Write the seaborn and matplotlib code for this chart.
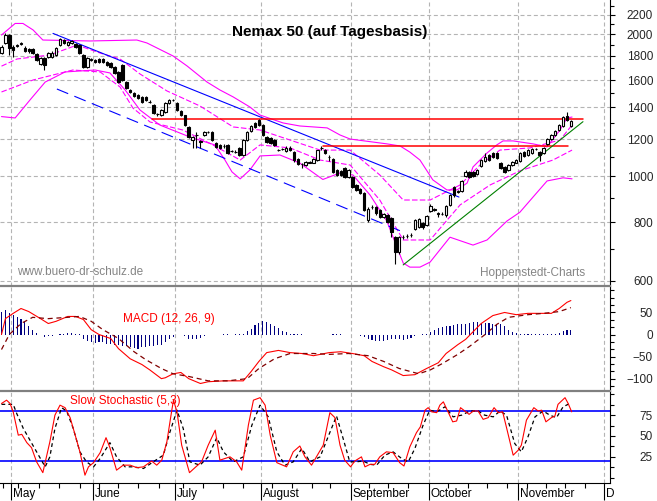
import numpy as np
import pandas as pd
import matplotlib
matplotlib.use("Agg")
import matplotlib.pyplot as plt
import matplotlib.transforms as mtransforms
from matplotlib.ticker import FixedLocator, NullFormatter, FuncFormatter, MultipleLocator
import seaborn as sns

sns.set_style("white")
plt.rcParams["font.family"] = ["Liberation Sans", "DejaVu Sans"]

# ---------------- data ----------------
opens = [1825,1920,1990,1885,1890,1905,1875,1860,1862,1815,
         1730,1780,1790,1795,1809,1899,1946,1899,1918,1908,
         1899,1809,1706,1765,1765,1773,1773,1748,1740,1706,
         1665,1723,1585,1525,1503,1488,1474,1474,1440,1417,
         1356,1349,1369,1431,1452,1431,1376,1349,1273,1194,
         1224,1180,1224,1240,1242,1177,1166,1160,1166,1131,
         1127,1148,1110,1194,1248,1298,1317,1285,1212,1205,
         1194,1137,1143,1131,1150,1126,1088,1062,1057,1072,
         1070,1083,1148,1137,1100,1090,1032,1027,1042,997,
         997,959,940,922,808,860,860,849,820,828,
         816,744,691,742,746,750,773,781,797,789,
         845,850,834,834,828,870,950,927,931,1002,
         1022,1022,1012,1052,1078,1110,1120,1120,1067,1047,
         1032,1057,1070,1078,1126,1110,1122,1143,1126,1122,
         1172,1200,1224,1254,1279,1343,1279]
highs = [1900,2010,2000,1895,1910,1925,1890,1870,1875,1825,
         1790,1790,1835,1840,1880,1965,1955,1935,1945,1915,
         1905,1815,1790,1780,1775,1780,1785,1755,1745,1712,
         1670,1735,1590,1530,1510,1495,1480,1480,1450,1425,
         1365,1390,1440,1460,1462,1438,1380,1352,1278,1215,
         1240,1192,1248,1250,1248,1182,1170,1170,1172,1140,
         1135,1152,1200,1248,1284,1305,1325,1290,1218,1210,
         1198,1145,1150,1160,1160,1132,1092,1070,1080,1080,
         1095,1140,1162,1142,1110,1095,1036,1030,1046,1036,
         1000,962,944,926,860,868,864,852,836,832,
         820,748,748,750,755,760,812,816,802,828,
         872,858,842,840,870,918,955,935,982,1030,
         1028,1026,1036,1088,1120,1115,1125,1125,1072,1052,
         1062,1077,1088,1125,1132,1142,1148,1150,1130,1152,
         1205,1228,1252,1290,1345,1370,1318]
lows = [1815,1910,1810,1790,1880,1895,1835,1830,1815,1755,
        1720,1681,1780,1785,1800,1890,1910,1890,1910,1870,
        1815,1695,1695,1755,1740,1740,1740,1715,1700,1650,
        1575,1595,1530,1505,1475,1460,1430,1445,1430,1355,
        1345,1340,1360,1425,1445,1378,1342,1280,1205,1150,
        1150,1150,1218,1235,1190,1150,1145,1150,1115,1125,
        1120,1105,1105,1190,1244,1268,1280,1218,1178,1172,
        1160,1130,1135,1125,1132,1075,1058,1040,1052,1065,
        1066,1078,1140,1118,1080,1018,1002,1000,992,992,
        945,930,918,845,800,852,830,815,815,795,
        745,652,685,735,740,745,768,776,775,784,
        840,845,820,828,822,865,905,920,926,996,
        990,995,1008,1048,1072,1078,1095,1090,1038,1015,
        1028,1052,1066,1074,1100,1106,1118,1138,1078,1118,
        1168,1196,1220,1250,1275,1310,1272]
closes = [1885,1994,1870,1853,1895,1915,1845,1840,1826,1765,
          1780,1723,1826,1830,1870,1955,1918,1927,1936,1880,
          1826,1706,1782,1770,1748,1748,1748,1723,1706,1657,
          1585,1601,1540,1510,1480,1466,1438,1452,1438,1362,
          1354,1383,1431,1452,1455,1383,1349,1285,1212,1212,
          1226,1188,1242,1243,1194,1155,1149,1161,1120,1133,
          1126,1110,1194,1242,1279,1273,1285,1224,1183,1177,
          1166,1139,1145,1150,1137,1083,1062,1064,1075,1070,
          1090,1137,1150,1122,1098,1022,1007,1005,997,1032,
          950,936,922,849,852,862,836,820,832,800,
          762,691,744,744,748,752,808,812,781,824,
          866,852,836,832,866,913,913,929,978,1022,
          997,1002,1032,1083,1100,1083,1100,1095,1042,1022,
          1057,1072,1083,1120,1105,1137,1143,1145,1110,1148,
          1200,1224,1248,1285,1336,1317,1310]

# Bollinger-style bands (outer / inner), sampled along the chart
bu_x = [0,3.5,5.5,8.1,10.6,22.7,34.7,37.3,44,47.6,52.7,56,59.4,63.7,66.3,72.2,76.5,83.5,86.8,89.4,
        98.8,102.2,104.7,107.3,110.6,114.2,116.8,119.4,120.9,124.5,127,128.6,131.2,136.3,139.9,143.2,145,146.3]
bu_v = [1994,2110,2110,2044,1946,1937,1946,1918,1800,1714,1585,1525,1474,1403,1349,1298,1279,1267,1224,1200,
        1172,1160,1126,1083,983,936,936,968,1047,1121,1166,1189,1189,1172,1155,1254,1330,1336]
bl_x = [0,3.5,7.3,11.2,16.3,24,27.8,31.7,35.5,40.6,48.3,54.7,57.3,59.1,61.2,63.7,66.3,71.4,76.5,82.4,
        86.8,90.1,94.5,98.8,103,104.7,107.3,109.9,115,120.9,124.5,129.6,132.9,136.3,139.9,144,146.3]
bl_v = [1339,1330,1452,1585,1665,1681,1657,1525,1383,1285,1212,1166,1083,1022,988,1032,1105,1110,1067,985,
        1017,1007,913,804,655,642,642,658,743,715,733,804,839,904,978,993,988]
iu_x = [0,4,12.4,19.4,25.3,30.4,35.5,42.4,50.9,59.4,66.3,74,81.7,89.4,97,103,109.9,117.6,122.7,127.8,135.5,143.2,146.3]
iu_v = [1713,1774,1809,1899,1826,1774,1649,1518,1410,1273,1254,1194,1137,1137,1007,891,891,959,1057,1137,1149,1194,1285]
il_x = [0,8.1,18.3,25.3,30.4,33.7,38.1,46.5,54.2,61.2,66.3,74,81.7,89.4,97,103,109.9,117.6,125.3,132.9,141.4,146.3]
il_v = [1510,1601,1681,1665,1547,1396,1304,1254,1166,1083,1166,1149,1083,1057,891,733,733,870,959,1027,1083,1137]

# trend lines
trend_x, trend_v = [13.2, 117.3], [2010, 904]
chan_x, chan_v = [14.2, 103], [1532, 762]
res1_x, res1_v = [38.6, 149], [1322, 1322]
res2_x, res2_v = [82.4, 145.3], [1160, 1160]
sup_x, sup_v = [103, 149.1], [649, 1306]

# MACD
hist = [51,55,49,45,39,35,28,19,11,3,
        -2,-6,-4,-3,-1,1,1,3,4,1,
        1,-10,-15,-18,-19,-16,-18,-21,-21,-23,
        -24,-27,-27,-29,-30,-32,-29,-29,-27,-27,
        -24,-23,-17,-11,-6,0,0,-3,-10,-11,
        -9,-8,-4,-2,-1,-1,-1,1,1,-1,
        1,1,2,7,13,21,27,30,28,23,
        19,14,9,5,2,2,2,1,-1,-1,
        -1,-1,-1,-1,-1,2,2,1,-1,-1,
        -1,-1,-3,-6,-10,-12,-14,-15,-14,-12,
        -11,-10,-9,-12,-11,-7,-4,-1,1,2,
        5,10,15,18,19,20,22,24,24,24,
        26,28,28,27,27,27,25,24,23,19,
        11,6,3,2,2,2,2,2,2,1,
        1,1,2,4,7,11,11]
macd_x = [0,1,3,5,7,10,12,14,17,19,21,23,25,28,30,33,36,38,41,42,44,46,48,51,53,57,62,64,66,68,
          71,74,77,80,84,87,90,93,95,98,100,103,106,109,112,114,117,119,121,123,126,129,132,135,138,141,143,145,146]
macd_v = [0,36,48,59,52,36,25,30,41,41,34,11,0,-9,-32,-55,-68,-80,-100,-98,-89,-86,-100,-111,-107,-105,-105,-84,-61,-41,
          -36,-41,-43,-48,-41,-39,-43,-48,-61,-73,-80,-93,-91,-77,-64,-43,-23,-11,7,25,43,50,45,48,48,48,59,73,77]
sig_x = [0,2,5,8,12,17,20,23,26,30,34,37,41,44,48,53,58,63,66,70,74,80,84,89,94,98,102,107,110,113,
         117,120,124,127,130,135,139,143,146]
sig_v = [-34,0,25,39,36,39,41,30,11,-9,-39,-57,-77,-89,-95,-105,-105,-100,-77,-55,-43,-43,-45,-43,-48,-61,-77,-89,-80,-66,
         -45,-27,0,23,39,45,48,52,61]

# Slow stochastic
k_x = [0,1.3,2.2,3,4.3,5.2,6.5,7.7,9,10.6,12.4,13.7,15,16.3,17.6,18.9,20.1,21.4,22.3,23.6,
       25.3,26.8,27.8,29.5,31.2,33,34.7,36.4,38.5,39.8,41.1,42.4,43.6,44.1,45,46.2,48.2,49.6,51.3,53,
       54.8,56,58.6,60.3,61.6,63.3,64.6,66.3,67.6,68.9,70.6,73.1,74.8,76.5,77.8,79.5,82.5,84.2,85.5,86.8,
       88,89.5,90.6,92.3,93.2,94.5,95.7,97,98.7,100.4,102.1,103.2,104.7,106.4,107.4,108.6,109.4,110.3,111.6,112.4,
       113.3,114.5,115.7,116.7,117.7,118.8,119.9,121,122.2,123.5,124.8,126.3,127.4,128.5,129.5,131.2,132.5,133.3,134.6,136.5,
       137.6,138.5,139.6,141,141.9,142.7,144.5,145.3,146.2]
k_v = [89,93,89,79,51,52,42,36,19,6,43,75,87,84,72,51,31,3,13,18,
       30,48,36,9,15,15,12,13,20,15,21,43,79,93,79,39,6,12,19,39,
       57,21,25,19,9,63,93,96,87,51,18,13,31,38,25,15,39,78,72,39,
       21,13,20,25,13,16,16,25,31,30,18,14,37,54,61,81,84,79,78,87,
       91,79,67,68,84,80,76,80,80,70,72,84,78,79,60,27,33,39,69,84,
       80,81,67,72,74,88,96,89,79]
d_x = [0,1.3,3,3.9,5.6,7.3,9,11.2,12.4,13.7,15.4,16.7,18.4,20.1,21.8,23.6,25.3,27.8,29.5,31.7,
       33.8,36.4,38.9,41.5,43.2,45,46.6,48.3,50.9,53,55.2,56.9,59.4,62,64.2,66.3,68.4,70.6,72.7,74.8,
       77,79.1,81.7,84,85.9,87.6,89.3,91,92.7,94.5,96.2,98.3,100.4,102.6,104.3,106,108.1,109.8,111.6,113.7,
       115.8,118,120.1,122.2,123.9,126.1,127.8,129.5,131.6,133.3,135,136.8,138.9,140.6,142.3,144,145.7]
d_v = [88,88,88,77,59,45,31,13,25,59,84,80,59,31,19,13,23,42,25,13,
       13,11,19,27,55,81,59,19,15,25,48,31,19,25,63,87,73,31,15,19,
       35,19,25,52,74,47,19,19,20,16,15,27,31,23,19,35,63,81,79,85,
       73,75,80,80,75,73,80,75,41,31,49,73,80,75,72,85,89]

# axis / calendar
month_pos = [2.5, 23.5, 44.5, 66.5, 89.5, 109.5, 132.5, 154.5]
month_lab = ["May", "June", "July", "August", "September", "October", "November", "D"]
week_pos = [0.3, 4.3, 9.7, 14.8, 20.1, 25.1, 30, 35.1, 40.5, 46.6, 51.7, 56.9, 61.8, 69.3, 74.4,
            79.5, 84.2, 94.2, 99.1, 104.2, 114.5, 119.5, 124.5, 129.5, 134.7, 139.6, 144.5, 149.6]
price_ticks = [600, 800, 1000, 1200, 1400, 1600, 1800, 2000, 2200]
price_minor = [700, 900, 1100, 1300, 1500, 1700, 1900, 2100, 2300]
macd_ticks = [-100, -50, 0, 50]
stoch_ticks = [25, 50, 75]

# ---------------- figure ----------------
W, H = 657, 501
fig = plt.figure(figsize=(W / 100, H / 100), dpi=100)


def rect(x0, y0, x1, y1):
    return [x0 / W, 1 - y1 / H, (x1 - x0) / W, (y1 - y0) / H]


ax1 = fig.add_axes(rect(0, 0, 610, 286))
ax2 = fig.add_axes(rect(0, 286, 610, 391))
ax3 = fig.add_axes(rect(0, 391, 610, 483))
XL = (-0.385, 156.03)
GRID = "#b4b4b4"
GDASH = (0, (3.6, 2.4))


def sline(ax, x, y, color, lw, dashes=None, z=4):
    sns.lineplot(x=x, y=y, ax=ax, color=color, linewidth=lw, estimator=None,
                 sort=False, legend=False, zorder=z)
    ln = ax.get_lines()[-1]
    if dashes is not None:
        ln.set_dashes(dashes)
    return ln


for ax in (ax1, ax2, ax3):
    ax.set_xlim(*XL)
    ax.set_facecolor("white")
    for s in ("left", "top", "bottom"):
        ax.spines[s].set_visible(False)
    ax.spines["right"].set_color("black")
    ax.spines["right"].set_linewidth(0.8)
    for m in month_pos:
        ax.axvline(m, color=GRID, lw=0.8, linestyle=GDASH, zorder=1)
    ax.tick_params(axis="x", which="both", bottom=False, top=False, labelbottom=False)

# ---- main price panel ----
ax1.set_yscale("log")
ax1.set_ylim(585.5, 2366)
for v in price_ticks:
    ax1.axhline(v, color=GRID, lw=0.8, linestyle=GDASH, zorder=1)

sline(ax1, bu_x, bu_v, "#ff00ff", 0.8, z=2)
sline(ax1, bl_x, bl_v, "#ff00ff", 0.8, z=2)
sline(ax1, iu_x, iu_v, "#ff00ff", 0.8, dashes=(5, 2), z=2)
sline(ax1, il_x, il_v, "#ff00ff", 0.8, dashes=(5, 2), z=2)
sline(ax1, trend_x, trend_v, "#0000ff", 0.8, z=2)
sline(ax1, chan_x, chan_v, "#0000ff", 0.8, dashes=(11, 6), z=2)
sline(ax1, res1_x, res1_v, "#ff0000", 1.1, z=2)
sline(ax1, res2_x, res2_v, "#ff0000", 1.1, z=2)
sline(ax1, sup_x, sup_v, "#008000", 0.8, z=2)

idx = np.arange(len(closes))
o = np.array(opens, float)
c = np.array(closes, float)
lo = np.minimum(o, c)
hi = np.maximum(o, c)
up = c >= o
ax1.vlines(idx, lows, highs, color="black", lw=0.8, zorder=3)
ax1.bar(idx, hi - lo, bottom=lo, width=0.62, color=np.where(up, "white", "black"),
        edgecolor="black", linewidth=0.8, zorder=4)

fig.text(330 / W, 1 - 32 / H, "Nemax 50 (auf Tagesbasis)", ha="center", va="center",
         fontsize=11, fontweight="bold", color="black")
fig.text(17 / W, 1 - 272 / H, "www.buero-dr-schulz.de", ha="left", va="center",
         fontsize=8.5, color="#858585")
fig.text(585 / W, 1 - 273 / H, "Hoppenstedt-Charts", ha="right", va="center",
         fontsize=8.5, color="#858585")

ax1.yaxis.set_major_locator(FixedLocator(price_ticks))
ax1.yaxis.set_minor_locator(FixedLocator(price_minor))
ax1.yaxis.set_major_formatter(FuncFormatter(lambda v, p: f"{v:.0f}"))
ax1.yaxis.set_minor_formatter(NullFormatter())

# ---- MACD panel ----
ax2.set_ylim(-128, 110)
ax2.spines["top"].set_visible(True)
ax2.spines["top"].set_color("#808080")
ax2.spines["top"].set_linewidth(1.6)
ax2.bar(idx, hist, width=0.28, color="#000080", linewidth=0, zorder=3)
sline(ax2, macd_x, macd_v, "#ff0000", 0.8, z=4)
sline(ax2, sig_x, sig_v, "#800000", 0.9, dashes=(4, 3), z=4)
ax2.text((169 - 1.5) / 3.9, 1 - (319 - 286) / 105, "MACD (12, 26, 9)",
         transform=mtransforms.blended_transform_factory(ax2.transData, ax2.transAxes),
         ha="center", va="center", fontsize=8.5, color="#ff0000")
ax2.yaxis.set_major_locator(FixedLocator(macd_ticks))
ax2.yaxis.set_minor_locator(MultipleLocator(50 / 3))
ax2.yaxis.set_minor_formatter(NullFormatter())

# ---- Stochastic panel ----
ax3.set_ylim(-6.4, 104)
ax3.spines["top"].set_visible(True)
ax3.spines["top"].set_color("#808080")
ax3.spines["top"].set_linewidth(1.6)
ax3.spines["bottom"].set_visible(True)
ax3.spines["bottom"].set_color("black")
ax3.spines["bottom"].set_linewidth(0.8)
ax3.axhline(80, color="#0000ff", lw=1.2, zorder=2)
ax3.axhline(20, color="#0000ff", lw=1.2, zorder=2)
sline(ax3, d_x, d_v, "black", 0.9, dashes=(3, 2.5), z=3)
sline(ax3, k_x, k_v, "#ff0000", 0.8, z=4)
ax3.text((125 - 1.5) / 3.9, 1 - (401 - 391) / 92, "Slow Stochastic (5,3)",
         transform=mtransforms.blended_transform_factory(ax3.transData, ax3.transAxes),
         ha="center", va="center", fontsize=8.5, color="#ff0000")
ax3.yaxis.set_major_locator(FixedLocator(stoch_ticks))
ax3.yaxis.set_minor_locator(MultipleLocator(12.5))
ax3.yaxis.set_minor_formatter(NullFormatter())

# x axis of the bottom panel: month ticks + weekly ticks
ax3.set_xticks(month_pos)
ax3.set_xticks(week_pos, minor=True)
ax3.tick_params(axis="x", which="major", bottom=True, direction="out", length=12.2, width=0.8,
                color="black", labelbottom=False)
ax3.tick_params(axis="x", which="minor", bottom=True, direction="out", length=3.6, width=0.8,
                color="black", labelbottom=False)
btrans = mtransforms.blended_transform_factory(ax3.transData, ax3.transAxes)
for m, lab in zip(month_pos, month_lab):
    ax3.text(m + 0.55, (483 - 494) / 92, lab, transform=btrans, ha="left", va="center",
             fontsize=8.5, color="black", clip_on=False)

# right axis ticks / labels
for ax in (ax1, ax2, ax3):
    ax.yaxis.tick_right()
    ax.tick_params(axis="y", which="major", right=True, left=False, direction="out", length=3.6,
                   width=0.8, color="black", pad=27.4, labelsize=8.5, labelright=True, labelleft=False)
    ax.tick_params(axis="y", which="minor", right=True, left=False, direction="out", length=2.6,
                   width=0.8, color="black")
    for lab in ax.get_yticklabels():
        lab.set_horizontalalignment("right")

fig.savefig("out.png", dpi=100)
